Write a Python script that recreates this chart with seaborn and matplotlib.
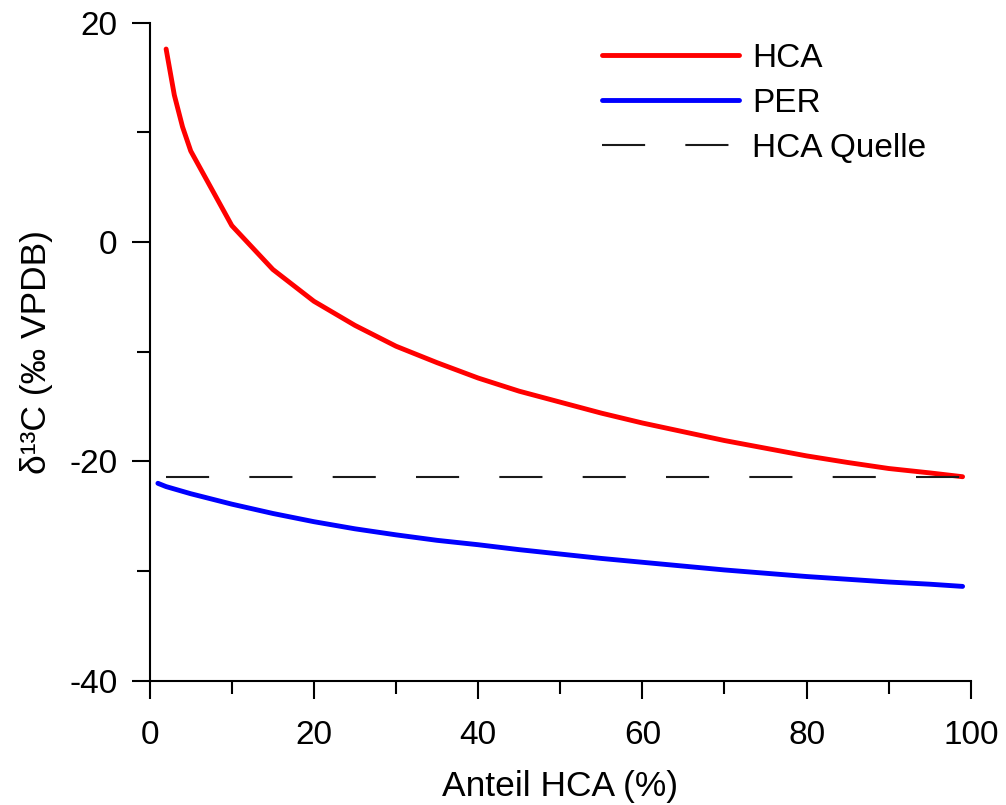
import matplotlib
matplotlib.use("Agg")
import matplotlib.pyplot as plt
import seaborn as sns
import pandas as pd
from matplotlib.ticker import MultipleLocator

# values
hca_x = [2, 3, 4, 5, 10, 15, 20, 25, 30, 35, 40, 45, 50, 55, 60, 65, 70, 75, 80, 85, 90, 95, 99]
hca_y = [17.6, 13.4, 10.5, 8.3, 1.5, -2.5, -5.4, -7.6, -9.5, -11.0, -12.4, -13.6, -14.6,
         -15.6, -16.5, -17.3, -18.1, -18.8, -19.5, -20.1, -20.65, -21.05, -21.4]

per_x = [1, 2, 5, 10, 15, 20, 25, 30, 35, 40, 45, 50, 55, 60, 65, 70, 75, 80, 85, 90, 95, 99]
per_y = [-22.0, -22.3, -22.95, -23.9, -24.75, -25.5, -26.15, -26.7, -27.2, -27.6, -28.05, -28.45,
         -28.85, -29.2, -29.55, -29.9, -30.2, -30.5, -30.75, -31.0, -31.2, -31.4]

quelle_x = [2, 99]
quelle_y = [-21.4, -21.4]

sns.set_theme(style="ticks")
plt.rcParams['font.family'] = ['Liberation Sans', 'DejaVu Sans']
plt.rcParams['axes.unicode_minus'] = False
plt.rcParams['text.color'] = 'black'

fig = plt.figure(figsize=(10.06, 8.05), dpi=100)
ax = fig.add_axes([0.1488, 0.1544, 0.8162, 0.8174])

hca = pd.DataFrame({"x": hca_x, "y": hca_y})
per = pd.DataFrame({"x": per_x, "y": per_y})
src = pd.DataFrame({"x": quelle_x, "y": quelle_y})

sns.lineplot(data=hca, x="x", y="y", ax=ax, color="#ff0000", lw=3.5, label="HCA")
sns.lineplot(data=per, x="x", y="y", ax=ax, color="#0000ff", lw=3.5, label="PER")
sns.lineplot(data=src, x="x", y="y", ax=ax, color="#1a1a1a", lw=1.5, label="HCA Quelle")
ax.lines[-1].set_dashes((20.7, 19.3))

ax.set_xlim(0, 100)
ax.set_ylim(-40, 20)
ax.xaxis.set_major_locator(MultipleLocator(20))
ax.xaxis.set_minor_locator(MultipleLocator(10))
ax.yaxis.set_major_locator(MultipleLocator(20))
ax.yaxis.set_minor_locator(MultipleLocator(10))

sns.despine(ax=ax)
for s in ["left", "bottom"]:
    ax.spines[s].set_linewidth(1.5)
    ax.spines[s].set_color("black")

ax.tick_params(which="major", length=13, width=1.5, color="black", labelsize=24,
               labelcolor="black")
ax.tick_params(which="minor", length=9.5, width=1.5, color="black")
ax.tick_params(axis="x", which="major", pad=15)
ax.tick_params(axis="y", which="major", pad=10)

ax.set_xlabel("Anteil HCA (%)", fontsize=25.5, color="black", labelpad=14)
ax.set_ylabel("δ¹³C (‰ VPDB)", fontsize=25.5, color="black", labelpad=12)

leg = ax.legend(loc="upper right", frameon=False, fontsize=24, handlelength=4.1,
                handletextpad=0.4, labelspacing=0.42, borderaxespad=0.2,
                bbox_to_anchor=(0.97, 1.0))
for t in leg.get_texts():
    t.set_color("black")

fig.savefig("out.png", dpi=100)
